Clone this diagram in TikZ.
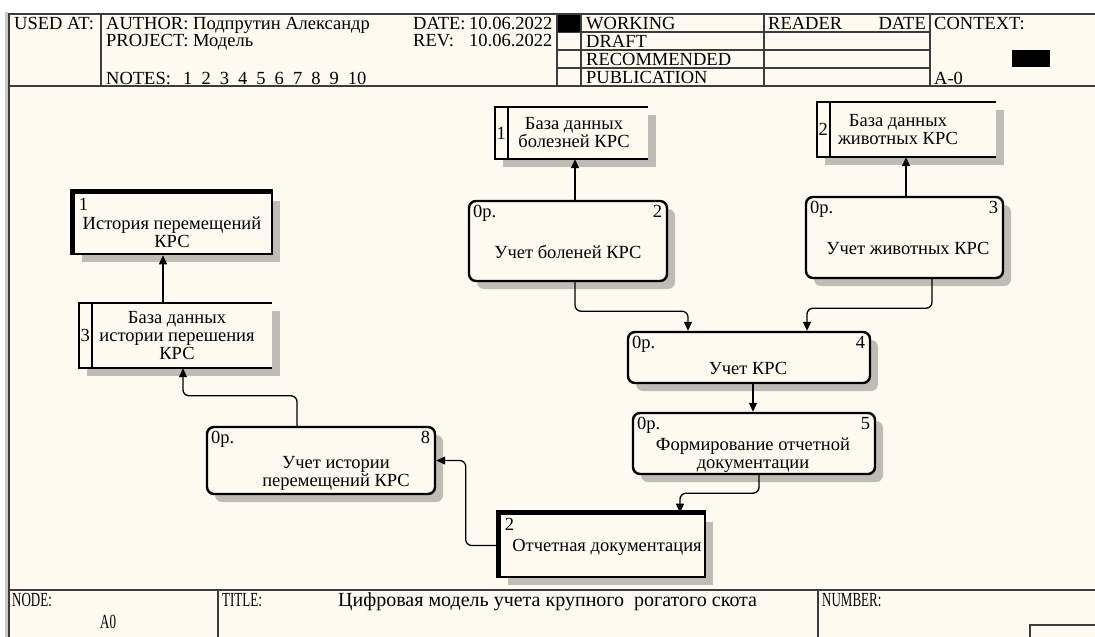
\documentclass[tikz,border=0pt]{standalone}
\usepackage{fontspec}
\setmainfont{Liberation Serif}
\newfontfamily\narrowfont{Liberation Serif}[FakeStretch=0.65]
\usepackage{tikz}
\usetikzlibrary{arrows.meta,shadows,calc}
\definecolor{paper}{RGB}{255,250,240}
\definecolor{shadowgray}{RGB}{190,188,181}
\definecolor{framegray}{RGB}{60,60,60}
\newcommand{\storelines}[1]{%
  \draw[storeline] (#1.north east) -- (#1.north west) -- (#1.south west) -- (#1.south east);
  \draw[storeline] ([xshift=13pt]#1.north west) -- ([xshift=13pt]#1.south west);}
\newcommand{\procmarks}[2]{%
  \node[anchor=north west] (#1cost) at ([xshift=5pt,yshift=-5pt]#1.north west) {0р.};
  \node[anchor=north east] (#1num) at ([xshift=-6pt,yshift=-5pt]#1.north east) {#2};}

\begin{document}
\begin{tikzpicture}[x=1pt,y=-1pt,
    font=\fontsize{18.5}{18}\selectfont,
    every node/.style={inner sep=0pt},
    boxshadow/.style={drop shadow={shadow xshift=8pt,shadow yshift=-8pt,fill=shadowgray,opacity=1}},
    proc/.style={draw, line width=2.4pt, rounded corners=7pt, fill=paper, boxshadow,
      path picture={\fill (path picture bounding box.north west) -- ++(8pt,0pt) -- ++(-8pt,-8pt) -- cycle;}},
    extbox/.style={draw, line width=2.6pt, fill=paper, boxshadow},
    storebox/.style={fill=paper, boxshadow},
    storeline/.style={line width=2pt},
    flow/.style={line width=1.3pt, rounded corners=6pt, -{Triangle[length=9pt,width=8pt]}},
    frameline/.style={line width=1.3pt, draw=framegray},
    hdtext/.style={anchor=base west},
    foottext/.style={anchor=base west, font=\fontsize{20}{20}\selectfont\narrowfont},
  ]
  \useasboundingbox (0,0) rectangle (1095,637);
  \fill[white] (0,0) rectangle (1095,637);
  \fill[paper] (9,14) rectangle (1095,637);
  \fill[black!22] (5,12) rectangle (8,637);

  % header
  \draw[frameline] (9,637) -- (9,14) -- (1095,14);
  \draw[frameline] (9,86) -- (1095,86);
  \draw[frameline] (101,14) -- (101,86);
  \draw[frameline] (557,14) -- (557,86);
  \draw[frameline] (581,14) -- (581,86);
  \draw[frameline] (764,14) -- (764,86);
  \draw[frameline] (930,14) -- (930,86);
  \foreach \yy in {32,50,68}
    \draw[frameline] (557,\yy) -- (930,\yy);
  \fill (558,15) rectangle (580,32);

  \node[hdtext] (usedat) at (14,29) {USED AT:};
  \node[hdtext] (author) at (106,29) {AUTHOR:};
  \node[hdtext] (authorname) at (193,29) {Подпрутин Александр};
  \node[hdtext] (project) at (106,46) {PROJECT:};
  \node[hdtext] (projectname) at (193,46) {Модель};
  \node[hdtext] (notes) at (106,84) {NOTES:};
  \foreach \n [count=\i] in {1,...,10}
    \node[hdtext] (note\n) at (183+18.3*\i-18.3,84) {\n};
  \node[hdtext] (date) at (413,29) {DATE:};
  \node[hdtext] (dateval) at (469,29) {10.06.2022};
  \node[hdtext] (rev) at (413,46) {REV:};
  \node[hdtext] (revval) at (469,46) {10.06.2022};
  \node[hdtext] (working) at (586,29) {WORKING};
  \node[hdtext] (draft) at (586,47) {DRAFT};
  \node[hdtext] (recommended) at (586,65) {RECOMMENDED};
  \node[hdtext] (publication) at (586,83) {PUBLICATION};
  \node[hdtext] (reader) at (768,29) {READER};
  \node[anchor=base east] (readerdate) at (926,29) {DATE};
  \node[hdtext] (context) at (934,29) {CONTEXT:};
  \fill (1012,50) rectangle (1050,67);
  \node[hdtext] (aname) at (934,84) {A-0};

  % footer
  \draw[frameline] (9,590) -- (1095,590);
  \draw[frameline] (218,590) -- (218,637);
  \draw[frameline] (818,590) -- (818,637);
  \draw[frameline] (1030,637) -- (1030,625) -- (1095,625);
  \node[foottext] (nodelbl) at (12,606) {NODE:};
  \node[foottext] (nodeval) at (100,628) {A0};
  \node[foottext] (titlelbl) at (222,606) {TITLE:};
  \node[anchor=base west, font=\fontsize{20}{20}\selectfont] (title) at (338,606) {Цифровая модель учета крупного\ \ рогатого скота};
  \node[foottext] (numberlbl) at (822,606) {NUMBER:};

  % boxes
  \node[extbox, minimum width=198pt, minimum height=61pt] (e1) at (173,223.5) {};
  \draw[line width=5pt] (e1.south west) -- (e1.north west) -- (e1.north east);
  \node[anchor=north west] (e1num) at ([xshift=6pt,yshift=-6pt]e1.north west) {1};
  \node[align=center] (e1text) at (172,232) {История перемещений\\КРС};

  \node[storebox, minimum width=193pt, minimum height=65pt] (ds3) at (175.5,335.5) {};
  \storelines{ds3}
  \node (ds3num) at ([xshift=6.5pt]ds3.west) {3};
  \node[align=center] (ds3text) at (177,335.5) {База данных\\истории перешения\\КРС};

  \node[storebox, minimum width=153pt, minimum height=52pt] (ds1) at (571.5,133) {};
  \storelines{ds1}
  \node (ds1num) at ([xshift=6.5pt]ds1.west) {1};
  \node[align=center] (ds1text) at (574,133) {База данных\\болезней КРС};

  \node[storebox, minimum width=179pt, minimum height=55pt] (ds2) at (906.5,129.5) {};
  \storelines{ds2}
  \node (ds2num) at ([xshift=6.5pt]ds2.west) {2};
  \node[align=center] (ds2text) at (898,129.5) {База данных\\животных КРС};

  \node[proc, minimum width=198pt, minimum height=80pt] (p2) at (568,241) {};
  \procmarks{p2}{2}
  \node (p2text) at (568,252) {Учет боленей КРС};

  \node[proc, minimum width=197pt, minimum height=81pt] (p3) at (904.5,237.5) {};
  \procmarks{p3}{3}
  \node (p3text) at (908,248) {Учет животных КРС};

  \node[proc, minimum width=242pt, minimum height=51pt] (p4) at (749,357.5) {};
  \procmarks{p4}{4}
  \node (p4text) at (748,368) {Учет КРС};

  \node[proc, minimum width=242pt, minimum height=61pt] (p5) at (754,443.5) {};
  \procmarks{p5}{5}
  \node[align=center] (p5text) at (753,455) {Формирование отчетной\\документации};

  \node[proc, minimum width=228pt, minimum height=67pt] (p8) at (321,460.5) {};
  \procmarks{p8}{8}
  \node[align=center] (p8text) at (336,473) {Учет истории\\перемещений КРС};

  \node[extbox, minimum width=205pt, minimum height=63pt] (ext2) at (602.5,545.5) {};
  \draw[line width=5pt] (ext2.south west) -- (ext2.north west) -- (ext2.north east);
  \node[anchor=north west] (ext2num) at ([xshift=6pt,yshift=-5pt]ext2.north west) {2};
  \node (ext2text) at (607,547) {Отчетная документация};

  % arrows
  \coordinate (u1) at ([xshift=7pt]p2.north);
  \coordinate (u2) at ([xshift=1.5pt]p3.north);
  \coordinate (d1) at ([xshift=7pt]p2.south);
  \coordinate (d2) at ([xshift=-61pt]p4.north);
  \coordinate (d3) at ([xshift=27.5pt]p3.south);
  \coordinate (d4) at ([xshift=58pt]p4.north);
  \coordinate (d5) at ([xshift=4pt]p4.south);
  \coordinate (d6) at ([xshift=5pt]p5.south);
  \coordinate (d7) at ([xshift=77.5pt]ext2.north);
  \coordinate (d8) at ([xshift=-24pt]p8.north);
  \coordinate (d9) at ([xshift=7.5pt]ds3.south);
  \coordinate (d10) at ([xshift=-12.5pt]ds3.north);
  \draw[flow] (u1) -- (u1 |- ds1.south);
  \draw[flow] (u2) -- (u2 |- ds2.south);
  \draw[flow] (d1) -- ++(0,29) -| (d2);
  \draw[flow] (d3) -- ++(0,29) -| (d4);
  \draw[flow] (d5) -- (d5 |- p5.north);
  \draw[flow] (d6) -- ++(0,18) -| (d7);
  \draw[flow] (ext2.west) -- ++(-33,0) |- (p8.east);
  \draw[flow] (d8) -- ++(0,-30) -| (d9);
  \draw[flow] (d10) -- (d10 |- e1.south);
\end{tikzpicture}
\end{document}
